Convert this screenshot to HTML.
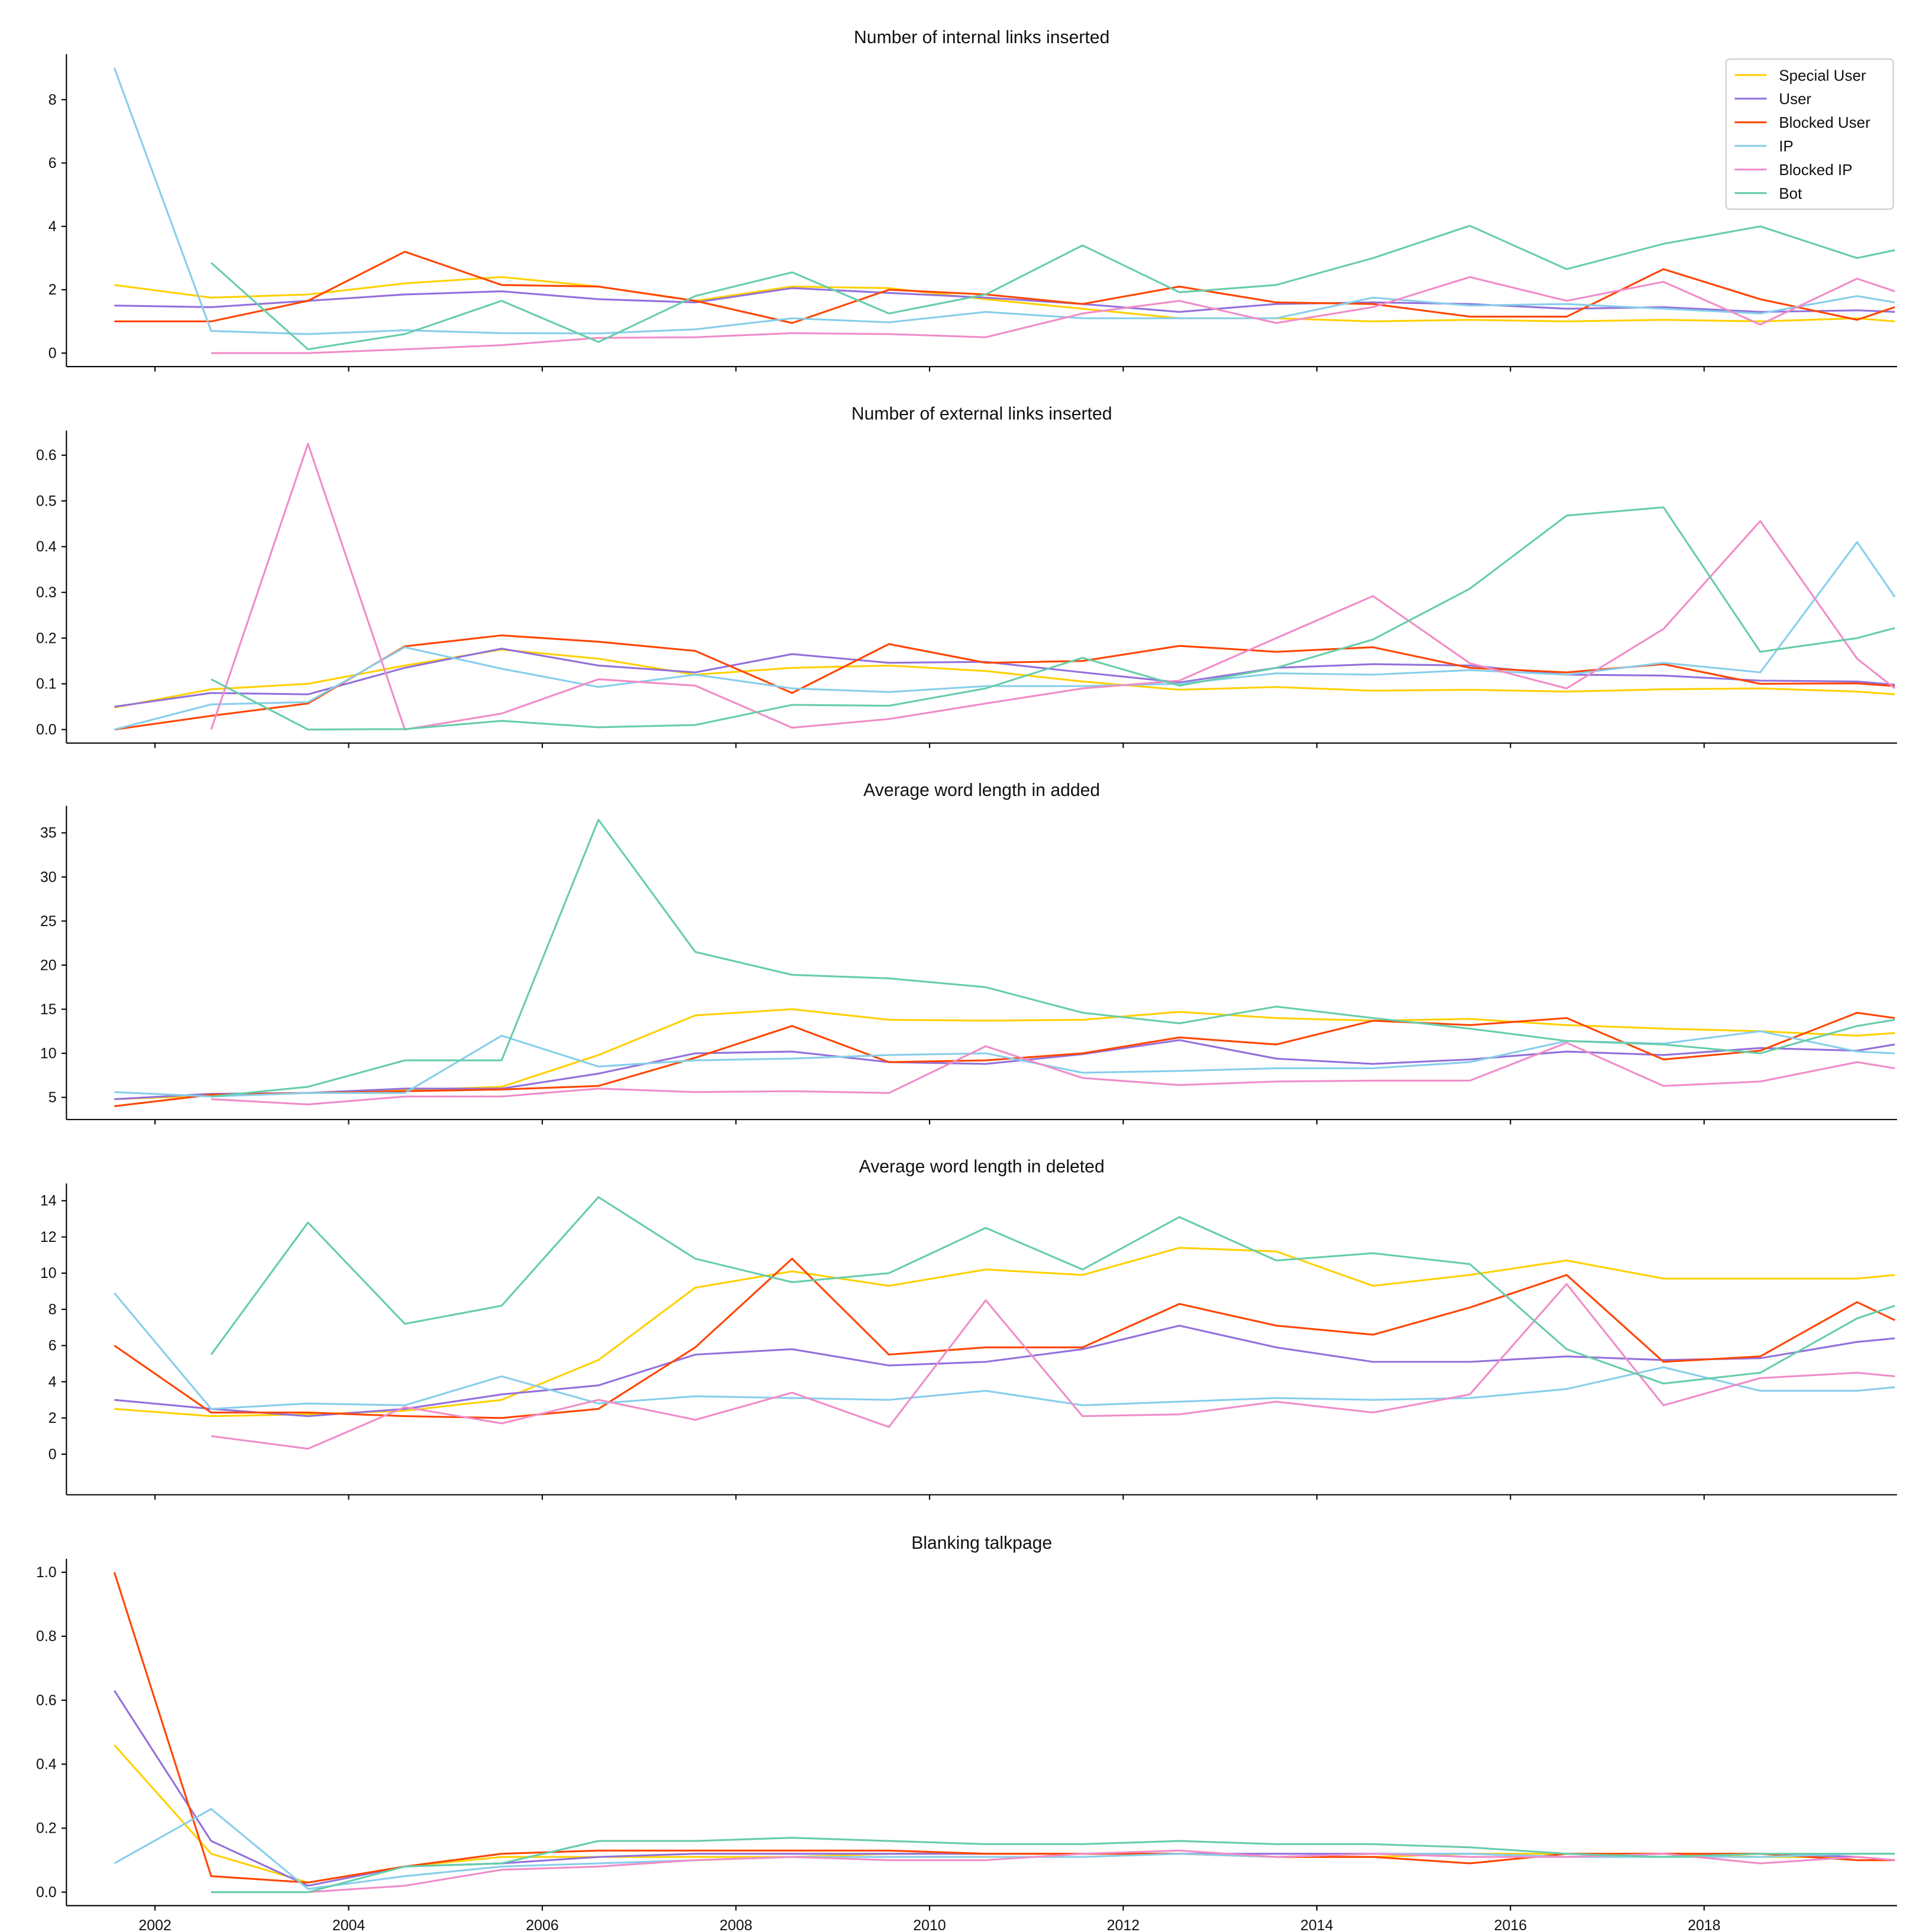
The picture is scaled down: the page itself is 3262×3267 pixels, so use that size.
<!DOCTYPE html>
<html><head><meta charset="utf-8"><style>
html,body{margin:0;padding:0;background:#fff}
svg{display:block}
text{font-family:"Liberation Sans",sans-serif;fill:#111}
</style></head><body>
<svg id="chart" width="3262" height="3267" viewBox="0 0 1568 1570.4" xmlns="http://www.w3.org/2000/svg"></svg>
<script>
const years=[2001.58,2002.58,2003.58,2004.58,2005.58,2006.58,2007.58,2008.58,2009.58,2010.58,2011.58,2012.58,2013.58,2014.58,2015.58,2016.58,2017.58,2018.58,2019.58,2019.97];
const seriesNames=["Special User","User","Blocked User","IP","Blocked IP","Bot"];
const colors=["#FFD000","#9370DB","#FF4500","#87CEEB","#F08CC8","#66CDAA"];
const xTicks=[2002,2004,2006,2008,2010,2012,2014,2016,2018];
const N=null;
const titles=["Number of internal links inserted","Number of external links inserted","Average word length in added","Average word length in deleted","Blanking talkpage"];
const yTicks1=[0,2,4,6,8];
const yTicks2=[0.0,0.1,0.2,0.3,0.4,0.5,0.6];
const yTicks3=[5,10,15,20,25,30,35];
const yTicks4=[0,2,4,6,8,10,12,14];
const yTicks5=[0.0,0.2,0.4,0.6,0.8,1.0];
const p1=[
[2.15,1.75,1.85,2.2,2.4,2.1,1.65,2.1,2.05,1.7,1.4,1.1,1.1,1.0,1.05,1.0,1.05,1.0,1.1,1.0],
[1.5,1.45,1.65,1.85,1.95,1.7,1.6,2.05,1.9,1.75,1.55,1.3,1.55,1.6,1.55,1.4,1.45,1.3,1.35,1.3],
[1.0,1.0,1.65,3.2,2.15,2.1,1.65,0.95,2.0,1.85,1.55,2.1,1.6,1.55,1.15,1.15,2.65,1.7,1.05,1.45],
[9.0,0.7,0.6,0.72,0.63,0.62,0.75,1.1,0.97,1.3,1.1,1.1,1.1,1.75,1.5,1.55,1.4,1.25,1.8,1.6],
[N,0,0,0.12,0.25,0.48,0.5,0.63,0.6,0.5,1.25,1.65,0.95,1.45,2.4,1.65,2.25,0.9,2.35,1.95],
[N,2.85,0.12,0.6,1.65,0.35,1.8,2.55,1.25,1.85,3.4,1.92,2.15,3.0,4.02,2.65,3.45,4.0,3.0,3.25]];
const p2=[
[0.048,0.088,0.10,0.14,0.175,0.155,0.12,0.135,0.14,0.128,0.105,0.087,0.093,0.085,0.087,0.083,0.088,0.09,0.083,0.077],
[0.05,0.08,0.077,0.135,0.177,0.14,0.125,0.165,0.146,0.148,0.125,0.103,0.135,0.143,0.14,0.12,0.118,0.107,0.105,0.098],
[0,0.03,0.057,0.182,0.206,0.192,0.172,0.08,0.187,0.146,0.15,0.183,0.17,0.18,0.135,0.125,0.143,0.1,0.101,0.095],
[0,0.055,0.06,0.18,0.133,0.093,0.12,0.09,0.082,0.095,0.095,0.1,0.123,0.12,0.13,0.12,0.146,0.125,0.41,0.29],
[N,0,0.625,0,0.035,0.11,0.096,0.004,0.023,0.057,0.09,0.107,0.2,0.292,0.145,0.09,0.22,0.456,0.155,0.09],
[N,0.11,0,0.001,0.019,0.005,0.01,0.054,0.052,0.09,0.157,0.096,0.135,0.197,0.308,0.468,0.486,0.17,0.2,0.222]];
const p3=[
[4.8,5.2,5.5,5.8,6.2,9.8,14.3,15.0,13.8,13.7,13.8,14.7,14.0,13.7,13.9,13.2,12.8,12.5,12.0,12.3],
[4.8,5.4,5.5,6.0,6.0,7.7,10.0,10.2,9.0,8.8,9.9,11.5,9.4,8.8,9.3,10.2,9.8,10.6,10.3,11.0],
[4.0,5.3,5.5,5.7,5.9,6.3,9.5,13.1,9.0,9.2,10.0,11.8,11.0,13.7,13.2,14.0,9.3,10.3,14.6,14.0],
[5.6,5.1,5.5,5.5,12.0,8.5,9.2,9.4,9.8,10.0,7.8,8.0,8.3,8.3,9.0,11.4,11.1,12.5,10.2,10.0],
[N,4.8,4.2,5.1,5.1,6.0,5.6,5.7,5.5,10.8,7.2,6.4,6.8,6.9,6.9,11.2,6.3,6.8,9.0,8.3],
[N,5.1,6.2,9.2,9.2,36.5,21.5,18.9,18.5,17.5,14.6,13.4,15.3,14.0,12.8,11.4,11.0,10.0,13.1,13.8]];
const p4=[
[2.5,2.1,2.2,2.4,3.0,5.2,9.2,10.1,9.3,10.2,9.9,11.4,11.2,9.3,9.9,10.7,9.7,9.7,9.7,9.9],
[3.0,2.5,2.1,2.5,3.3,3.8,5.5,5.8,4.9,5.1,5.8,7.1,5.9,5.1,5.1,5.4,5.2,5.3,6.2,6.4],
[6.0,2.3,2.3,2.1,2.0,2.5,5.9,10.8,5.5,5.9,5.9,8.3,7.1,6.6,8.1,9.9,5.1,5.4,8.4,7.4],
[8.9,2.5,2.8,2.7,4.3,2.8,3.2,3.1,3.0,3.5,2.7,2.9,3.1,3.0,3.1,3.6,4.8,3.5,3.5,3.7],
[N,1.0,0.3,2.6,1.7,3.0,1.9,3.4,1.5,8.5,2.1,2.2,2.9,2.3,3.3,9.4,2.7,4.2,4.5,4.3],
[N,5.5,12.8,7.2,8.2,14.2,10.8,9.5,10.0,12.5,10.2,13.1,10.7,11.1,10.5,5.8,3.9,4.5,7.5,8.2]];
const p5=[
[0.46,0.12,0.03,0.08,0.11,0.11,0.11,0.11,0.12,0.12,0.12,0.12,0.11,0.11,0.12,0.12,0.12,0.11,0.11,0.1],
[0.63,0.16,0.02,0.08,0.09,0.11,0.12,0.12,0.12,0.12,0.12,0.12,0.12,0.12,0.12,0.11,0.12,0.12,0.11,0.1],
[1.0,0.05,0.03,0.08,0.12,0.13,0.13,0.13,0.13,0.12,0.12,0.12,0.11,0.11,0.09,0.12,0.12,0.12,0.1,0.1],
[0.09,0.26,0.01,0.05,0.08,0.09,0.1,0.11,0.11,0.11,0.11,0.12,0.11,0.12,0.12,0.11,0.11,0.11,0.12,0.12],
[N,0,0,0.02,0.07,0.08,0.1,0.11,0.1,0.1,0.12,0.13,0.11,0.12,0.11,0.11,0.12,0.09,0.11,0.1],
[N,0,0,0.08,0.09,0.16,0.16,0.17,0.16,0.15,0.15,0.16,0.15,0.15,0.14,0.12,0.11,0.12,0.12,0.12]];

const svg=document.getElementById('chart');
const NS="http://www.w3.org/2000/svg";
function mk(tag,attrs,parent){const e=document.createElementNS(NS,tag);for(const k in attrs)e.setAttribute(k,attrs[k]);(parent||svg).appendChild(e);return e;}
const L=54,R=1542;
const xScale=y=>126+(y-2002)*78.7;
// panel geometry: top, bottom, y of v0, v0, y of v1, v1
const panels=[
{data:p1,ticks:yTicks1,top:44,bot:298,ya:287,va:0,yb:81,vb:8,title:30,fmt:v=>String(v)},
{data:p2,ticks:yTicks2,top:350,bot:604,ya:593,va:0,yb:370,vb:0.6,title:336,fmt:v=>v.toFixed(1)},
{data:p3,ticks:yTicks3,top:655,bot:910,ya:892,va:5,yb:677,vb:35,title:642,fmt:v=>String(v)},
{data:p4,ticks:yTicks4,top:962,bot:1215,ya:1182,va:0,yb:976,vb:14,title:948,fmt:v=>String(v)},
{data:p5,ticks:yTicks5,top:1267,bot:1549,ya:1538,va:0,yb:1278,vb:1.0,title:1254,fmt:v=>v.toFixed(1)}];
panels.forEach((p,pi)=>{
  const g=mk('g',{});
  
  
  const ys=v=>p.ya+(v-p.va)*(p.yb-p.ya)/(p.vb-p.va);
  const t=mk('text',{x:798,y:p.title+5,'text-anchor':'middle','font-size':14.5},g);t.textContent=titles[pi];
  
  
  const cp=mk('clipPath',{id:'c'+pi},g);mk('rect',{x:L,y:p.top-5,width:R-L,height:p.bot-p.top+5},cp);
  p.data.forEach((s,si)=>{
    let d='';let started=false;
    s.forEach((v,i)=>{if(v===null){started=false;return;}d+=(started?'L':'M')+xScale(years[i]).toFixed(2)+','+ys(v).toFixed(2);started=true;});
    const path=mk('path',{d:d,fill:'none',stroke:colors[si],'stroke-width':1.5,'clip-path':'url(#c'+pi+')','stroke-linejoin':'round'},g);
    
    
  });
  mk('line',{x1:L,y1:p.top,x2:L,y2:p.bot,stroke:'#000','stroke-width':1},g);
  mk('line',{x1:L,y1:p.bot,x2:R,y2:p.bot,stroke:'#000','stroke-width':1},g);
  p.ticks.forEach(v=>{const y=ys(v);mk('line',{x1:L-4,y1:y,x2:L,y2:y,stroke:'#000'},g);
    const tt=mk('text',{x:L-8,y:y+4,'text-anchor':'end','font-size':12},g);tt.textContent=p.fmt(v);
    
    });
  xTicks.forEach(yr=>{const x=xScale(yr);mk('line',{x1:x,y1:p.bot,x2:x,y2:p.bot+4,stroke:'#000'},g);
    if(pi===4){const tt=mk('text',{x:x,y:p.bot+20,'text-anchor':'middle','font-size':12},g);tt.textContent=yr;
    
    }});
});
const lg=mk('g',{});


mk('rect',{x:1403,y:48,width:136,height:122,rx:3,fill:'#fff',stroke:'#ccc','stroke-width':1},lg);
seriesNames.forEach((n,i)=>{const y=61+i*19.2;
  const e=mk('g',{},lg);
  
  
  mk('line',{x1:1410,y1:y,x2:1436,y2:y,stroke:colors[i],'stroke-width':1.5},e);
  const tt=mk('text',{x:1446,y:y+4.5,'font-size':12.5},e);tt.textContent=n;});
</script>
</body></html>
